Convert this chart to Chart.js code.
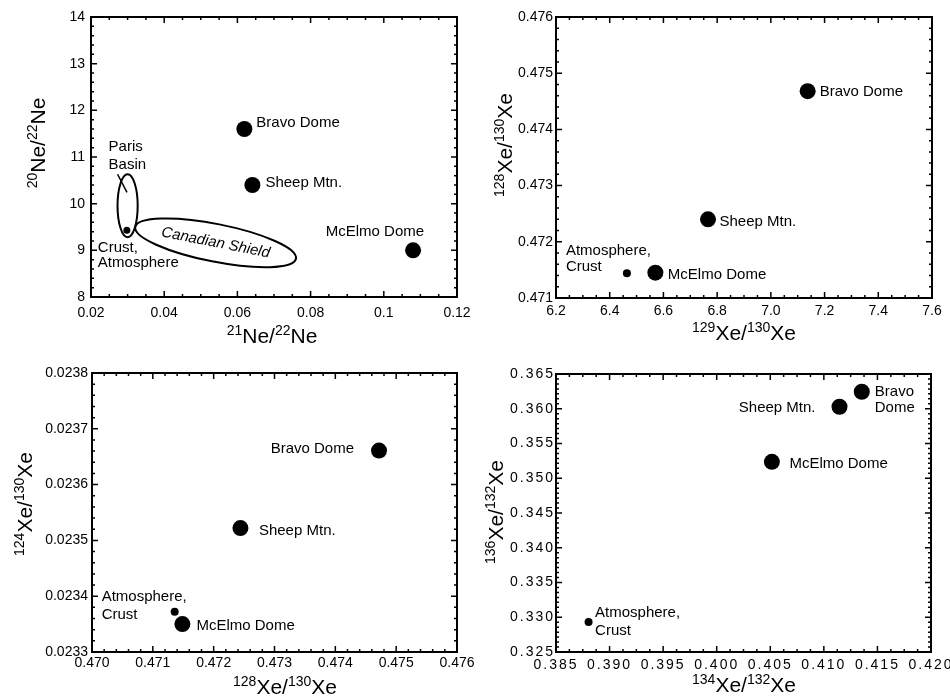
<!DOCTYPE html>
<html>
<head>
<meta charset="utf-8">
<script src="https://cdn.jsdelivr.net/npm/chart.js@4.4.1/dist/chart.umd.min.js"></script>
<style>
  html, body { margin: 0; padding: 0; background: #fff; }
  #wrap { position: relative; width: 950px; height: 698px; }
  canvas { position: absolute; }
</style>
</head>
<body>
<div id="wrap">
  <canvas id="neChart" width="475" height="349" style="left:0;top:0"></canvas>
  <canvas id="xe128Chart" width="475" height="349" style="left:475px;top:0"></canvas>
  <canvas id="xe124Chart" width="475" height="349" style="left:0;top:349px"></canvas>
  <canvas id="xe136Chart" width="475" height="349" style="left:475px;top:349px"></canvas>
</div>
<script>
// order of every series: Bravo Dome, Sheep Mtn., McElmo Dome, Atmosphere/Crust
var sites = ['Bravo Dome', 'Sheep Mtn.', 'McElmo Dome', 'Atmosphere, Crust'];

// 21Ne/22Ne vs 20Ne/22Ne
var ne21_22 = [0.0619, 0.0641, 0.1080, 0.0298];
var ne20_22 = [11.60, 10.40, 9.00, 9.43];
var neXTicks = [0.02, 0.04, 0.06, 0.08, 0.10, 0.12];
var neXLabels = ['0.02', '0.04', '0.06', '0.08', '0.1', '0.12'];
var neYTicks = [8, 9, 10, 11, 12, 13, 14];
var neYLabels = ['8', '9', '10', '11', '12', '13', '14'];
// fields drawn as outlines: the two ends of the long axis, and width / length
var parisBasin = { ends: [[0.0300, 10.63], [0.0300, 9.28]], ratio: 0.32 };
var canadianShield = { ends: [[0.0321, 9.50], [0.0760, 8.82]], ratio: 0.23 };
var parisLeader = [[0.02726, 10.63], [0.02983, 10.24]];

// 129Xe/130Xe vs 128Xe/130Xe
var xe129_130 = [7.137, 6.766, 6.570, 6.464];
var xe128_130a = [0.47468, 0.47240, 0.47145, 0.47144];
var xe129Ticks = [6.2, 6.4, 6.6, 6.8, 7.0, 7.2, 7.4, 7.6];
var xe129Labels = ['6.2', '6.4', '6.6', '6.8', '7.0', '7.2', '7.4', '7.6'];
var xe128Ticks = [0.471, 0.472, 0.473, 0.474, 0.475, 0.476];
var xe128Labels = ['0.471', '0.472', '0.473', '0.474', '0.475', '0.476'];

// 128Xe/130Xe vs 124Xe/130Xe
var xe128_130b = [0.474718, 0.472440, 0.471486, 0.471359];
var xe124_130 = [0.023661, 0.023522, 0.023350, 0.023372];
var xe128bTicks = [0.470, 0.471, 0.472, 0.473, 0.474, 0.475, 0.476];
var xe128bLabels = ['0.470', '0.471', '0.472', '0.473', '0.474', '0.475', '0.476'];
var xe124Ticks = [0.0233, 0.0234, 0.0235, 0.0236, 0.0237, 0.0238];
var xe124Labels = ['0.0233', '0.0234', '0.0235', '0.0236', '0.0237', '0.0238'];

// 134Xe/132Xe vs 136Xe/132Xe
var xe134_132 = [0.41354, 0.41146, 0.40515, 0.38804];
var xe136_132 = [0.36245, 0.36029, 0.35236, 0.32931];
var xe134Ticks = [0.385, 0.390, 0.395, 0.400, 0.405, 0.410, 0.415, 0.420];
var xe134Labels = ['0.385', '0.390', '0.395', '0.400', '0.405', '0.410', '0.415', '0.420'];
var xe136Ticks = [0.325, 0.330, 0.335, 0.340, 0.345, 0.350, 0.355, 0.360, 0.365];
var xe136Labels = ['0.325', '0.330', '0.335', '0.340', '0.345', '0.350', '0.355', '0.360', '0.365'];

var FONT = '"Liberation Sans", Arial, Helvetica, sans-serif';

function drawTitle(ctx, parts, cx, cy, angle) {
	// parts alternate: superscript, normal, superscript, normal
	var big = '21px ' + FONT, small = '14px ' + FONT;
	var total = 0;
	parts.forEach(function (p, i) {
		ctx.font = i % 2 === 0 ? small : big;
		total += ctx.measureText(p).width;
	});
	ctx.save();
	ctx.translate(cx, cy);
	ctx.rotate(angle);
	ctx.fillStyle = '#000';
	ctx.textAlign = 'left';
	ctx.textBaseline = 'alphabetic';
	var x = -total / 2;
	parts.forEach(function (p, i) {
		ctx.font = i % 2 === 0 ? small : big;
		ctx.fillText(p, x, i % 2 === 0 ? -8 : 0);
		x += ctx.measureText(p).width;
	});
	ctx.restore();
}

var decor = {
	id: 'decor',
	beforeDraw: function (chart, args, o) {
		chart.ctx.letterSpacing = o.tickSpacing || '0px';
	},
	afterDraw: function (chart, args, o) {
		var ctx = chart.ctx, a = chart.chartArea;
		var xs = chart.scales.x, ys = chart.scales.y;
		ctx.save();
		ctx.letterSpacing = '0px';
		ctx.strokeStyle = '#000';
		ctx.fillStyle = '#000';

		// inward ticks on all four sides
		ctx.lineWidth = 1.5;
		function ticks(scale, vals, n, horiz) {
			ctx.beginPath();
			for (var i = 0; i < vals.length; i++) {
				var list = [[vals[i], 6]];
				if (i < vals.length - 1) {
					for (var k = 1; k < n; k++) list.push([vals[i] + (vals[i + 1] - vals[i]) * k / n, 3]);
				}
				list.forEach(function (t) {
					var p = scale.getPixelForValue(t[0]);
					if (horiz) {
						ctx.moveTo(p, a.bottom); ctx.lineTo(p, a.bottom - t[1]);
						ctx.moveTo(p, a.top); ctx.lineTo(p, a.top + t[1]);
					} else {
						ctx.moveTo(a.left, p); ctx.lineTo(a.left + t[1], p);
						ctx.moveTo(a.right, p); ctx.lineTo(a.right - t[1], p);
					}
				});
			}
			ctx.stroke();
		}
		ticks(xs, o.xTicks, o.xMinor, true);
		ticks(ys, o.yTicks, o.yMinor, false);

		ctx.lineWidth = 2;
		ctx.strokeRect(a.left, a.top, a.right - a.left, a.bottom - a.top);

		// fields (ellipses)
		(o.fields || []).forEach(function (f) {
			var p1 = [xs.getPixelForValue(f.ends[0][0]), ys.getPixelForValue(f.ends[0][1])];
			var p2 = [xs.getPixelForValue(f.ends[1][0]), ys.getPixelForValue(f.ends[1][1])];
			var cx = (p1[0] + p2[0]) / 2, cy = (p1[1] + p2[1]) / 2;
			var len = Math.hypot(p2[0] - p1[0], p2[1] - p1[1]) / 2;
			var ang = Math.atan2(p2[1] - p1[1], p2[0] - p1[0]);
			ctx.lineWidth = 2;
			ctx.beginPath();
			ctx.ellipse(cx, cy, len, len * f.ratio, ang, 0, Math.PI * 2);
			ctx.stroke();
			if (f.text) {
				ctx.save();
				ctx.translate(cx, cy);
				ctx.rotate(ang < -Math.PI / 2 || ang > Math.PI / 2 ? ang + Math.PI : ang);
				ctx.font = 'italic 15px ' + FONT;
				ctx.textAlign = 'center';
				ctx.textBaseline = 'middle';
				ctx.fillText(f.text, 0, 0);
				ctx.restore();
			}
		});

		// leader lines with their labels
		(o.leaders || []).forEach(function (l) {
			var q1 = [xs.getPixelForValue(l.line[0][0]), ys.getPixelForValue(l.line[0][1])];
			var q2 = [xs.getPixelForValue(l.line[1][0]), ys.getPixelForValue(l.line[1][1])];
			ctx.lineWidth = 1.5;
			ctx.beginPath();
			ctx.moveTo(q1[0], q1[1]);
			ctx.lineTo(q2[0], q2[1]);
			ctx.stroke();
			ctx.font = '15px ' + FONT;
			ctx.textAlign = 'left';
			ctx.textBaseline = 'alphabetic';
			l.text.forEach(function (s, j) {
				ctx.fillText(s, q1[0] + l.dx, q1[1] + l.dy + j * l.lh);
			});
		});

		// point labels
		ctx.font = '15px ' + FONT;
		ctx.textBaseline = 'alphabetic';
		o.labels.forEach(function (lb) {
			var px = xs.getPixelForValue(o.x[lb.i]), py = ys.getPixelForValue(o.y[lb.i]);
			ctx.textAlign = lb.align || 'left';
			lb.text.forEach(function (s, j) {
				ctx.fillText(s, px + lb.dx, py + lb.dy + j * (lb.lh || 16));
			});
		});

		// axis titles
		drawTitle(ctx, o.xTitle, o.xTitlePos[0], o.xTitlePos[1], 0);
		drawTitle(ctx, o.yTitle, o.yTitlePos[0], o.yTitlePos[1], -Math.PI / 2);
		ctx.restore();
	}
};

function panel(id, o) {
	var radii = o.x.map(function (v, i) { return i === 3 ? o.small : 8; });
	return new Chart(document.getElementById(id), {
		type: 'scatter',
		data: {
			datasets: [{
				label: 'sites',
				data: o.x.map(function (v, i) { return { x: v, y: o.y[i] }; }),
				backgroundColor: '#000',
				borderWidth: 0,
				pointRadius: radii,
				pointHoverRadius: radii,
			}],
		},
		options: {
			responsive: false,
			animation: false,
			devicePixelRatio: 1,
			layout: { padding: o.pad },
			events: [],
			plugins: {
				legend: { display: false },
				tooltip: { enabled: false },
				decor: o,
			},
			scales: {
				x: {
					type: 'linear',
					min: o.xTicks[0],
					max: o.xTicks[o.xTicks.length - 1],
					afterBuildTicks: function (s) { s.ticks = o.xTicks.map(function (v) { return { value: v }; }); },
					afterFit: function (s) { s.height = o.xh; s.paddingLeft = 0; s.paddingRight = 0; },
					grid: { display: false, drawTicks: false },
					border: { display: false },
					ticks: {
						color: '#000',
						font: { family: FONT, size: 14 },
						padding: o.xPad,
						maxRotation: 0,
						autoSkip: false,
						callback: function (v, i) { return o.xLabels[i]; },
					},
				},
				y: {
					type: 'linear',
					min: o.yTicks[0],
					max: o.yTicks[o.yTicks.length - 1],
					afterBuildTicks: function (s) { s.ticks = o.yTicks.map(function (v) { return { value: v }; }); },
					afterFit: function (s) { s.width = o.yw; s.paddingTop = 0; s.paddingBottom = 0; },
					grid: { display: false, drawTicks: false },
					border: { display: false },
					ticks: {
						color: '#000',
						font: { family: FONT, size: 14 },
						padding: o.yPad,
						autoSkip: false,
						callback: function (v, i) { return o.yLabels[i]; },
					},
				},
			},
		},
		plugins: [decor],
	});
}

panel('neChart', {
	x: ne21_22, y: ne20_22, small: 3.5,
	xTicks: neXTicks, xLabels: neXLabels, yTicks: neYTicks, yLabels: neYLabels,
	xMinor: 4, yMinor: 5,
	pad: { left: 0, right: 18, top: 17, bottom: 0 }, yw: 91, xh: 52, xPad: 8, yPad: 6,
	xTitle: ['21', 'Ne/', '22', 'Ne'], xTitlePos: [272, 343],
	yTitle: ['20', 'Ne/', '22', 'Ne'], yTitlePos: [45, 143],
	fields: [
		{ ends: parisBasin.ends, ratio: parisBasin.ratio },
		{ ends: canadianShield.ends, ratio: canadianShield.ratio, text: 'Canadian Shield' },
	],
	leaders: [{ line: parisLeader, text: ['Paris', 'Basin'], dx: -9, dy: -23, lh: 17.5 }],
	labels: [
		{ i: 0, text: ['Bravo Dome'], dx: 12, dy: -2 },
		{ i: 1, text: ['Sheep Mtn.'], dx: 13, dy: 2 },
		{ i: 2, text: ['McElmo Dome'], dx: 11, dy: -14, align: 'right' },
		{ i: 3, text: ['Crust,', 'Atmosphere'], dx: -29, dy: 21.5, lh: 15.5 },
	],
});

panel('xe128Chart', {
	x: xe129_130, y: xe128_130a, small: 4,
	xTicks: xe129Ticks, xLabels: xe129Labels, yTicks: xe128Ticks, yLabels: xe128Labels,
	xMinor: 4, yMinor: 5,
	pad: { left: 0, right: 18, top: 17, bottom: 0 }, yw: 81, xh: 51, xPad: 5, yPad: 3,
	xTitle: ['129', 'Xe/', '130', 'Xe'], xTitlePos: [269, 340],
	yTitle: ['128', 'Xe/', '130', 'Xe'], yTitlePos: [37, 145],
	labels: [
		{ i: 0, text: ['Bravo Dome'], dx: 12, dy: 5 },
		{ i: 1, text: ['Sheep Mtn.'], dx: 11.5, dy: 6.5 },
		{ i: 2, text: ['McElmo Dome'], dx: 12.5, dy: 6.5 },
		{ i: 3, text: ['Atmosphere,', 'Crust'], dx: -61, dy: -18.5, lh: 16.7 },
	],
});

panel('xe124Chart', {
	x: xe128_130b, y: xe124_130, small: 4,
	xTicks: xe128bTicks, xLabels: xe128bLabels, yTicks: xe124Ticks, yLabels: xe124Labels,
	xMinor: 5, yMinor: 5,
	pad: { left: 0, right: 18, top: 24, bottom: 0 }, yw: 92, xh: 46, xPad: 3, yPad: 4,
	xTitle: ['128', 'Xe/', '130', 'Xe'], xTitlePos: [285, 345],
	yTitle: ['124', 'Xe/', '130', 'Xe'], yTitlePos: [32, 155],
	labels: [
		{ i: 0, text: ['Bravo Dome'], dx: -25, dy: 2.5, align: 'right' },
		{ i: 1, text: ['Sheep Mtn.'], dx: 18.5, dy: 6.5 },
		{ i: 2, text: ['McElmo Dome'], dx: 14, dy: 5.5 },
		{ i: 3, text: ['Atmosphere,', 'Crust'], dx: -73, dy: -11, lh: 17.7 },
	],
});

panel('xe136Chart', {
	x: xe134_132, y: xe136_132, small: 4, tickSpacing: '2px',
	xTicks: xe134Ticks, xLabels: xe134Labels, yTicks: xe136Ticks, yLabels: xe136Labels,
	xMinor: 4, yMinor: 7,
	pad: { left: 0, right: 19, top: 25, bottom: 0 }, yw: 81, xh: 46, xPad: 5, yPad: 1,
	xTitle: ['134', 'Xe/', '132', 'Xe'], xTitlePos: [269, 343],
	yTitle: ['136', 'Xe/', '132', 'Xe'], yTitlePos: [28, 163],
	labels: [
		{ i: 0, text: ['Bravo', 'Dome'], dx: 13, dy: 4.5, lh: 15.4 },
		{ i: 1, text: ['Sheep Mtn.'], dx: -24, dy: 5, align: 'right' },
		{ i: 2, text: ['McElmo Dome'], dx: 17.5, dy: 6.3 },
		{ i: 3, text: ['Atmosphere,', 'Crust'], dx: 6.5, dy: -5, lh: 18 },
	],
});
</script>
</body>
</html>
